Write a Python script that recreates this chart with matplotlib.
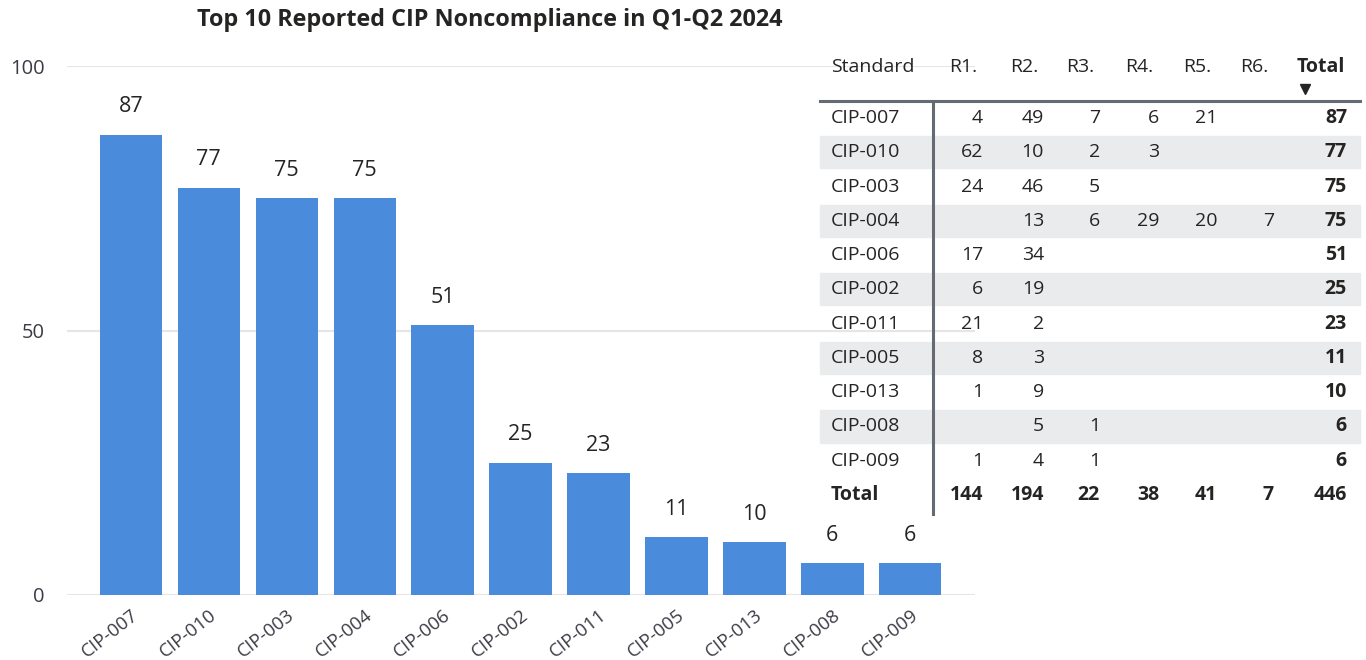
import matplotlib.pyplot as plt
from matplotlib.patches import Rectangle

plt.rcParams['font.family'] = ['Open Sans', 'DejaVu Sans']

standards = ["CIP-007", "CIP-010", "CIP-003", "CIP-004", "CIP-006", "CIP-002",
             "CIP-011", "CIP-005", "CIP-013", "CIP-008", "CIP-009"]
totals = [87, 77, 75, 75, 51, 25, 23, 11, 10, 6, 6]

req_cols = ["R1.", "R2.", "R3.", "R4.", "R5.", "R6."]
r1 = [4, 62, 24, None, 17, 6, 21, 8, 1, None, 1]
r2 = [49, 10, 46, 13, 34, 19, 2, 3, 9, 5, 4]
r3 = [7, 2, 5, 6, None, None, None, None, None, 1, 1]
r4 = [6, 3, None, 29, None, None, None, None, None, None, None]
r5 = [21, None, None, 20, None, None, None, None, None, None, None]
r6 = [None, None, None, 7, None, None, None, None, None, None, None]
col_totals = [144, 194, 22, 38, 41, 7]
grand_total = 446

bar_color = "#4a8bdb"
text_dark = "#252423"
text_gray = "#3c3c46"
line_color = "#646b73"

fig = plt.figure(figsize=(13.66, 6.6), dpi=100)

# bar chart
ax = fig.add_axes([67 / 1366, 65 / 660, (975 - 67) / 1366, (595 - 66) / 660])
x = list(range(len(standards)))
bars = ax.bar(x, totals, width=0.8, color=bar_color, zorder=2)
for b, v in zip(bars, totals):
    ax.annotate(str(v), (b.get_x() + b.get_width() / 2, v), xytext=(0, 20),
                textcoords="offset points", ha="center", va="center",
                fontsize=15.5, color=text_dark)
ax.set_xlim(-0.82, 10.83)
ax.set_ylim(0, 100)
ax.set_yticks([0, 50, 100])
ax.yaxis.grid(True, color="#e6e6e6", linewidth=1.5, zorder=0)
ax.set_xticks(x)
ax.set_xticklabels(standards, rotation=38, ha="right", va="top",
                   rotation_mode="anchor")
ax.tick_params(axis="y", length=0, labelsize=14.5, colors=text_gray, pad=16)
ax.tick_params(axis="x", length=0, labelsize=13.5, colors=text_gray, pad=8)
for s in ax.spines.values():
    s.set_visible(False)

fig.text(490 / 1366, 1 - 20 / 660, "Top 10 Reported CIP Noncompliance in Q1-Q2 2024",
         ha="center", va="center", fontsize=16.8, fontweight="bold", color=text_dark)

# table (pixel coordinates overlay)
tx = fig.add_axes([0, 0, 1, 1], facecolor="none")
tx.set_xlim(0, 1366)
tx.set_ylim(660, 0)
tx.axis("off")

fs = 14
row_y0 = 118
row_h = 34.27
col_right = [983, 1044, 1100, 1159, 1217, 1274]
total_right = 1347
req_data = [r1, r2, r3, r4, r5, r6]

for i, name in enumerate(standards):
    y = row_y0 + i * row_h
    if i % 2 == 1:
        tx.add_patch(Rectangle((820, y - row_h / 2 + 1), 540, row_h - 2,
                               color="#eaebec", zorder=0))
    tx.text(831, y, name, ha="left", va="center", fontsize=fs, color=text_dark)
    for c, vals in enumerate(req_data):
        if vals[i] is not None:
            tx.text(col_right[c], y, str(vals[i]), ha="right", va="center",
                    fontsize=fs, color=text_dark)
    tx.text(total_right, y, str(totals[i]), ha="right", va="center",
            fontsize=fs, fontweight="bold", color=text_dark)

# header
tx.text(831, 67, "Standard", ha="left", va="center", fontsize=fs, color=text_dark)
for c, h in enumerate(req_cols):
    tx.text(col_right[c] - 6, 67, h, ha="right", va="center", fontsize=fs,
            color=text_dark)
tx.text(1345, 67, "Total", ha="right", va="center", fontsize=fs,
        fontweight="bold", color=text_dark)
tx.plot([1305], [89], marker="v", color=text_dark, markersize=6.5)
tx.plot([820, 1360], [101, 101], color=line_color, linewidth=2.2)

# total row
ty = row_y0 + len(standards) * row_h
tx.text(831, ty, "Total", ha="left", va="center", fontsize=fs,
        fontweight="bold", color=text_dark)
for c, v in enumerate(col_totals):
    tx.text(col_right[c], ty, str(v), ha="right", va="center", fontsize=fs,
            fontweight="bold", color=text_dark)
tx.text(total_right, ty, str(grand_total), ha="right", va="center", fontsize=fs,
        fontweight="bold", color=text_dark)

tx.plot([933, 933], [101, 514], color=line_color, linewidth=2.2)

plt.savefig("out.png", dpi=100)
